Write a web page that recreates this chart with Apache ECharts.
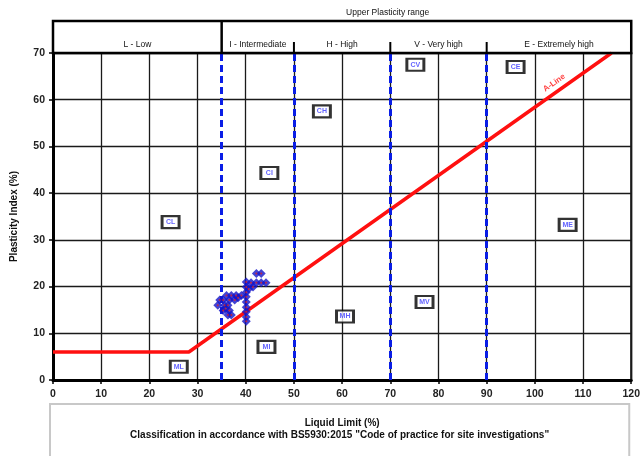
<!DOCTYPE html>
<html>
<head>
<meta charset="utf-8">
<script src="https://cdn.jsdelivr.net/npm/echarts/dist/echarts.min.js"></script>
<style>
  html, body { margin: 0; padding: 0; background: #fff; }
  #chart { width: 643px; height: 456px; }
</style>
</head>
<body>
<div id="chart"></div>
<script>
// Plasticity chart (BS5930:2015) – liquid limit vs plasticity index

// Test results: liquid limit (%) and plasticity index (%)
const sampleLL = [34.2, 34.6, 35.3, 35.6, 35.3, 36.0, 36.3, 36.6, 36.6, 37.0, 37.0, 37.7, 38.0, 39.1, 36.3, 38.4, 35.8,
                  40.1, 40.1, 40.1, 40.1, 40.1, 40.1, 40.1, 40.1, 40.1,
                  41.1, 42.2, 43.2, 44.2, 42.2, 43.2, 41.5, 40.6];
const samplePI = [16.0, 17.1, 17.1, 16.0, 14.9, 18.1, 16.0, 14.9, 17.1, 18.1, 13.9, 17.1, 18.1, 18.1, 13.9, 17.6, 15.3,
                  21.0, 19.9, 18.8, 17.8, 16.7, 15.6, 14.6, 13.5, 12.6,
                  20.8, 20.8, 20.8, 20.8, 22.8, 22.8, 19.9, 19.5];

// Soil class tags
const classNames = ['CL', 'CI', 'CH', 'CV', 'CE', 'ML', 'MI', 'MH', 'MV', 'ME'];
const classLL    = [24.4, 44.9, 55.8, 75.2, 96.0, 26.1, 44.3, 60.6, 77.1, 106.8];
const classPI    = [33.8, 44.3, 57.5, 67.5, 67.0, 2.85, 7.1, 13.6, 16.7, 33.2];

// Plasticity ranges across the top
const zoneNames  = ['L - Low', 'I - Intermediate', 'H - High', 'V - Very high', 'E - Extremely high'];
const zoneBounds = [0, 35, 50, 70, 90, 120];

// A-line: PI = 0.73 (LL - 20), floored at PI = 6
const aLineLL = [0, 28.2, 115.9];
const aLinePI = [6, 6, 70];
const aLineTagLL = 104;
const aLineTagPI = 63.6;

// Axis ranges
const xMin = 0, xMax = 120, xStep = 10;
const yMin = 0, yMax = 70, yStep = 10;

const FONT = 'Liberation Sans';
const chart = echarts.init(document.getElementById('chart'), null, { renderer: 'canvas' });

const samples = sampleLL.map((v, i) => [v, samplePI[i]]);
const tags = classNames.map((n, i) => ({ name: n, value: [classLL[i], classPI[i]] }));
const aLine = aLineLL.map((v, i) => [v, aLinePI[i]]);

chart.setOption({
  animation: false,
  backgroundColor: '#fff',
  grid: { left: 53, right: 10, top: 53, bottom: 76, show: true, borderColor: '#000', borderWidth: 2, backgroundColor: 'transparent' },
  xAxis: {
    type: 'value', min: xMin, max: xMax, interval: xStep,
    name: 'Liquid Limit (%)', nameLocation: 'middle', nameGap: 38,
    nameTextStyle: { fontFamily: FONT, fontWeight: 'bold', fontSize: 10, color: '#111' },
    axisLine: { show: true, lineStyle: { color: '#000', width: 3 } },
    axisTick: { show: true, length: 4, lineStyle: { color: '#000', width: 1.5 } },
    axisLabel: { margin: 9, fontFamily: FONT, fontWeight: 'bold', fontSize: 10.5, color: '#222' },
    splitLine: { show: true, lineStyle: { color: '#1a1a1a', width: 1.3 } }
  },
  yAxis: {
    type: 'value', min: yMin, max: yMax, interval: yStep,
    name: 'Plasticity Index (%)', nameLocation: 'middle', nameGap: 34, nameRotate: 90,
    nameTextStyle: { fontFamily: FONT, fontWeight: 'bold', fontSize: 10, color: '#111' },
    axisLine: { show: true, lineStyle: { color: '#000', width: 3 } },
    axisTick: { show: true, length: 4, lineStyle: { color: '#000', width: 1.5 } },
    axisLabel: { margin: 8, fontFamily: FONT, fontWeight: 'bold', fontSize: 10.5, color: '#222' },
    splitLine: { show: true, lineStyle: { color: '#1a1a1a', width: 1.3 } }
  },
  series: [
    {
      // range boundaries
      type: 'line', data: [], silent: true,
      markLine: {
        silent: true, symbol: 'none', label: { show: false },
        lineStyle: { color: '#0a1ee6', width: 3, type: [7, 4] },
        data: zoneBounds.slice(1, -1).map(v => ({ xAxis: v }))
      }
    },
    {
      // A-line
      type: 'line', data: aLine, symbol: 'none', z: 4,
      lineStyle: { color: '#ff1010', width: 3.5 }
    },
    {
      // A-line tag
      type: 'scatter', data: [[aLineTagLL, aLineTagPI]], symbolSize: 1, itemStyle: { color: 'transparent' }, z: 5,
      label: { show: true, position: 'inside', formatter: 'A-Line', rotate: 35,
               color: '#ff1010', fontFamily: FONT, fontWeight: 'bold', fontSize: 8 }
    },
    {
      // samples
      type: 'scatter', data: samples, symbol: 'diamond', symbolSize: 9, z: 6,
      itemStyle: { color: '#1414c8' }
    },
    {
      type: 'scatter', data: samples, symbol: 'circle', symbolSize: 2, z: 7,
      itemStyle: { color: '#e02020' }
    },
    {
      // class tags
      type: 'scatter', data: tags, symbol: 'rect', symbolSize: [17, 12], z: 8,
      itemStyle: { color: '#fff', borderColor: '#000', borderWidth: 2.5 },
      label: { show: true, position: 'inside', formatter: p => p.name,
               color: '#3a3aff', fontFamily: FONT, fontWeight: 'bold', fontSize: 7 }
    }
  ]
});

// Header band with plasticity ranges and the caption box below the plot
const px = v => chart.convertToPixel({ gridIndex: 0 }, [v, yMax])[0];
const plotTop = chart.convertToPixel({ gridIndex: 0 }, [xMin, yMax])[1];
const plotBottom = chart.convertToPixel({ gridIndex: 0 }, [xMin, yMin])[1];
const headTop = 21;

const g = [];
g.push({ type: 'rect', shape: { x: px(xMin), y: headTop, width: px(xMax) - px(xMin), height: plotTop - headTop },
         style: { fill: 'none', stroke: '#000', lineWidth: 2.5 }, z: 10 });
g.push({ type: 'line', shape: { x1: px(zoneBounds[1]), y1: headTop, x2: px(zoneBounds[1]), y2: plotTop },
         style: { stroke: '#000', lineWidth: 2.5 }, z: 10 });
zoneBounds.slice(2, -1).forEach(v => {
  g.push({ type: 'line', shape: { x1: px(v), y1: plotTop - 11, x2: px(v), y2: plotTop },
           style: { stroke: '#000', lineWidth: 2 }, z: 10 });
});
zoneNames.forEach((n, i) => {
  g.push({ type: 'text', x: px((zoneBounds[i] + zoneBounds[i + 1]) / 2), y: plotTop - 8,
           style: { text: n, font: '8.5px "' + FONT + '"', fill: '#111', textAlign: 'center', textVerticalAlign: 'middle' }, z: 10 });
});
g.push({ type: 'text', x: px(zoneBounds[1]) + 166, y: 13,
         style: { text: 'Upper Plasticity range', font: '8.5px "' + FONT + '"', fill: '#111', textAlign: 'center', textVerticalAlign: 'middle' }, z: 10 });

const capLeft = px(xMin) - 3, capRight = px(xMax) - 2;
g.push({ type: 'rect', shape: { x: capLeft, y: plotBottom + 24, width: capRight - capLeft, height: 80 },
         style: { fill: 'none', stroke: '#c8c8c8', lineWidth: 2 }, z: 1 });
g.push({ type: 'text', x: (capLeft + capRight) / 2, y: plotBottom + 55,
         style: { text: 'Classification in accordance with BS5930:2015 "Code of practice for site investigations"',
                  font: 'bold 10px "' + FONT + '"', fill: '#111', textAlign: 'center', textVerticalAlign: 'middle' }, z: 10 });

chart.setOption({ graphic: g });
</script>
</body>
</html>
